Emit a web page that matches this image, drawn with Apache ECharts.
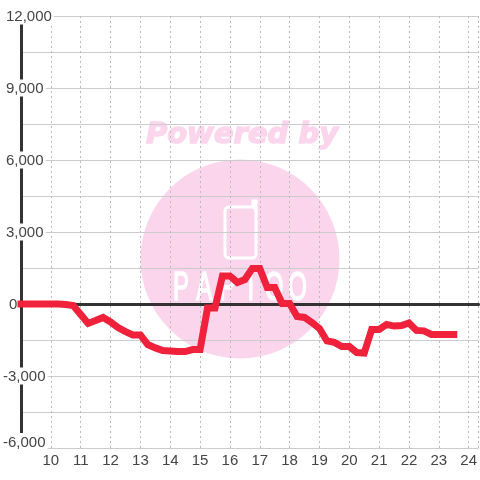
<!DOCTYPE html>
<html>
<head>
<meta charset="utf-8">
<style>
html, body { margin: 0; padding: 0; background: #fff; }
#chart { width: 480px; height: 480px; }
</style>
<script src="https://cdn.jsdelivr.net/npm/echarts@6/dist/echarts.min.js"></script>
</head>
<body>
<div id="chart"></div>
<script>
// hours, every 15 minutes from 9:00 to 23:30
const startHour = 9;
const stepHour = 0.25;
const profit = [
    0, 0, 0, 0, 0, 0, -20, -60, -440, -810, -690, -560, -750, -980, -1150, -1290,
    -1290, -1690, -1830, -1940, -1960, -1980, -1980, -1900, -1900, -170, -170, 1170, 1170, 900,
    1020, 1480, 1480, 690, 690, 20, 20, -520, -560, -770, -1020, -1540, -1600, -1770, -1770,
    -2020, -2040, -1060, -1060, -850, -920, -900, -790, -1100, -1120, -1270, -1270, -1270, -1270
];
const yTickLabels = [12000, 9000, 6000, 3000, 0, -3000, -6000];
const logoLetters = ['P', 'A', 'P', 'I', 'O', 'O'];

const lineData = profit.map((v, i) => [startHour + i * stepHour, v]);

function yLabel(value) {
    if (yTickLabels.indexOf(value) < 0) return '';
    const text = value.toLocaleString('en-US');
    if (value === 0) return '{zero|' + text + '}';
    return value < 0 ? '{neg|' + text + '}' : '{pos|' + text + '}';
}

const chart = echarts.init(document.getElementById('chart'), null, { renderer: 'canvas' });

const watermarkPink = '#fbd5ec';

function labelStyle(leftPad, rightPad) {
    return { fontSize: 15, lineHeight: 13, color: '#444', backgroundColor: '#fff', padding: [2, rightPad, 0, leftPad] };
}

// 水印的字母
const logoText = logoLetters.map((letter, i) => ({
    type: 'text', z: -9, silent: true, x: 181 + i * 23.3, y: 289, scaleX: 1.2, scaleY: 2,
    style: { text: letter, fill: '#fff', stroke: '#fff', lineWidth: 0.8, align: 'center', verticalAlign: 'middle', font: '20px "Liberation Sans"' }
}));

chart.setOption({
    animation: false,
    backgroundColor: '#fff',
    textStyle: { fontFamily: '"Liberation Sans", Arial, sans-serif' },
    grid: { left: 20, right: 0, top: 16, bottom: 32, containLabel: false },
    xAxis: [{
        type: 'value',
        min: 9,
        max: 24.33,
        interval: 1,
        axisLine: { show: false, onZero: false },
        axisTick: { show: false },
        axisLabel: {
            color: '#444',
            fontSize: 15,
            margin: 5,
            showMaxLabel: false,
            formatter: v => (v === 9 ? '' : String(v))
        },
        splitLine: { show: true, lineStyle: { color: '#bbb', width: 1, type: [2, 3] } }
    }, {
        // 零线
        type: 'value',
        position: 'bottom',
        min: 9,
        max: 24.33,
        interval: 1,
        axisLine: { show: true, onZero: true, lineStyle: { color: '#333', width: 3 } },
        axisTick: { show: false },
        axisLabel: { show: false },
        splitLine: { show: false }
    }],
    yAxis: {
        type: 'value',
        min: -6000,
        max: 12000,
        interval: 1500,
        axisLine: { show: true, lineStyle: { color: '#333', width: 3 } },
        axisTick: { show: false },
        axisLabel: {
            align: 'left',
            margin: 18,
            color: '#444',
            fontSize: 15,
            verticalAlignMinLabel: 'bottom',
            formatter: yLabel,
            rich: {
                pos: labelStyle(3, 2),
                neg: labelStyle(0, 2),
                zero: labelStyle(6, 0)
            }
        },
        splitLine: { show: true, lineStyle: { color: '#ccc', width: 1 } }
    },
    graphic: [
        { type: 'circle', z: -10, silent: true, shape: { cx: 240, cy: 259, r: 99.5 }, style: { fill: watermarkPink } },
        { type: 'text', z: -9, silent: true, x: 242, y: 135, style: {
            text: 'Powered by', fill: watermarkPink, stroke: watermarkPink, lineWidth: 1.5, align: 'center', verticalAlign: 'middle',
            font: 'italic bold 29px "DejaVu Sans"' } },
        { type: 'rect', z: -9, silent: true, shape: { x: 225, y: 207, width: 31, height: 51, r: 4 }, style: { fill: 'none', stroke: '#fff', lineWidth: 3 } },
        { type: 'polyline', z: -9, silent: true, shape: { points: [[253, 207], [253, 201], [256, 201], [256, 212]] }, style: { fill: 'none', stroke: '#fff', lineWidth: 3 } }
    ].concat(logoText),
    series: [{
        type: 'line',
        xAxisIndex: 0,
        data: lineData,
        symbol: 'none',
        smooth: false,
        lineStyle: { color: '#f0213a', width: 7, cap: 'square', join: 'miter' },
        z: 5
    }]
});
</script>
</body>
</html>
